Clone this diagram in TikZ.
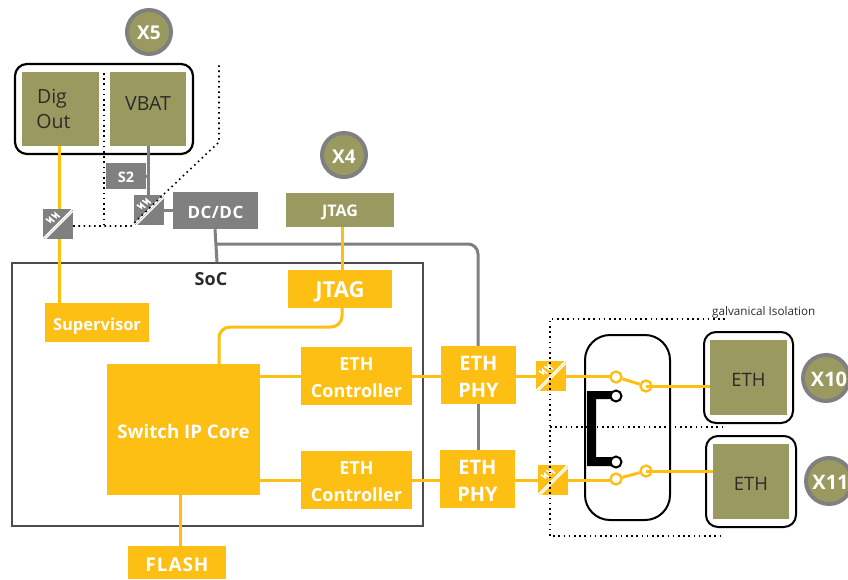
\documentclass[tikz,border=0pt]{standalone}
\usepackage{fontspec}
\setmainfont{Open Sans}
\usetikzlibrary{calc}
\definecolor{yel}{HTML}{FDBF14}
\definecolor{oli}{HTML}{9A9A60}
\definecolor{gry}{HTML}{808080}
\definecolor{txt}{HTML}{2B2B2B}
\tikzset{
  bx/.style={inner sep=0pt,align=center,font=\bfseries\fontsize{18}{27}\selectfont},
  ybox/.style={bx,fill=yel,text=white},
  gbox/.style={bx,fill=gry,text=white},
  obox/.style={bx,fill=oli,text=txt,font=\fontsize{19.5}{25}\selectfont},
  frame/.style={draw=black,line width=2pt,rounded corners=12pt},
  ywire/.style={draw=yel,line width=3pt},
  gwire/.style={draw=gry,line width=3pt},
  dots/.style={draw=black,line width=1.6pt,dash pattern=on 1.6pt off 3.6pt},
  portc/.style={circle,draw=gry,line width=4pt,fill=oli,text=white,minimum size=44pt,inner sep=0pt,font=\bfseries\fontsize{19}{20}\selectfont},
  swy/.style={circle,draw=yel,line width=2pt,fill=white,minimum size=11pt,inner sep=0pt},
  swk/.style={circle,draw=black,line width=2pt,fill=white,minimum size=11pt,inner sep=0pt},
}
% box from corners: name, x1, y1, x2, y2, style, text
\newcommand{\mybox}[7]{%
  \pgfmathsetmacro{\mycx}{(#2+#4)/2}\pgfmathsetmacro{\mycy}{(#3+#5)/2}%
  \pgfmathsetmacro{\mywd}{#4-#2}\pgfmathsetmacro{\myht}{#5-#3}%
  \node[#6,minimum width=\mywd pt,minimum height=\myht pt] (#1) at (\mycx,\mycy) {#7};}
% isolator: name, x, y (top-left), colour
\newcommand{\myiso}[4]{%
  \node[fill=#4,minimum size=30pt,inner sep=0pt] (#1) at (#2+15,#3+15) {};
  \begin{scope}[shift={(#1.north west)},x=1pt,y=-1pt,white,line width=1.3pt]
    \draw (0,30) -- (30,0);
    \draw (2.5,30) -- (30,2.5);
    \draw[line width=1.6pt] (3,10) -- (7.5,13) -- (7,9) -- (11.5,13);
    \draw[line width=1.6pt] (8.5,5.5) -- (13,8.5) -- (12.5,4.5) -- (17,8.5);
  \end{scope}}
\newcommand{\dn}[2]{\raisebox{-#1pt}[\height][\depth]{#2}}
\begin{document}
\begin{tikzpicture}[x=1pt,y=-1pt]
\useasboundingbox (0,0) rectangle (848,579);
% SoC frame
\node[draw=black!70,line width=1.6pt,minimum width=411pt,minimum height=263pt,inner sep=0pt] (soc) at (217.5,394.5) {};
\node[font=\bfseries\fontsize{18}{20}\selectfont,text=txt] (soclabel) at (211,279) {SoC};
% boxes
\mybox{dig}{22}{72}{99}{146}{obox}{Dig\hspace*{17pt}\\Out\hspace*{14pt}}
\mybox{vbat}{110}{72}{186}{146}{obox}{\raisebox{5pt}[\height][\depth]{VBAT}}
\mybox{stwo}{106}{163}{146}{189}{gbox,font=\bfseries\fontsize{14.5}{16}\selectfont}{\dn{1}{S2}}
\mybox{dcdc}{173}{192}{258}{229}{gbox,font=\bfseries\fontsize{17}{20}\selectfont\addfontfeature{LetterSpace=3}}{\dn{2}{DC/DC}}
\mybox{jtagx}{286}{193}{394}{227}{obox,text=white,font=\bfseries\fontsize{16}{18}\selectfont}{\dn{2}{JTAG}}
\mybox{jtag}{288}{270}{392}{308}{ybox,font=\bfseries\fontsize{22}{26}\selectfont}{\dn{3}{JTAG}}
\mybox{sup}{45}{303}{149}{342}{ybox,font=\bfseries\fontsize{16.5}{20}\selectfont}{\dn{4}{Supervisor}}
\mybox{core}{107}{364}{260}{495}{ybox,font=\bfseries\fontsize{18.7}{22}\selectfont}{\dn{2}{Switch IP Core}}
\mybox{ctla}{301}{347}{412}{405}{ybox}{\dn{2}{ETH}\\\dn{2}{Controller}}
\mybox{ctlb}{301}{451}{412}{509}{ybox}{\dn{2}{ETH}\\\dn{2}{Controller}}
\mybox{phya}{441}{346}{516}{404}{ybox,font=\bfseries\fontsize{20}{27}\selectfont}{\dn{2}{ETH}\\\dn{2}{PHY}}
\mybox{phyb}{440}{450}{515}{508}{ybox,font=\bfseries\fontsize{20}{27}\selectfont}{\dn{2}{ETH}\\\dn{2}{PHY}}
\mybox{flash}{128}{546}{226}{579}{ybox,font=\bfseries\fontsize{19}{22}\selectfont\addfontfeature{LetterSpace=5}}{\dn{2}{FLASH}}
% gray wires under boxes
\coordinate (rail) at (478,244);
\draw[gwire,rounded corners=10pt] (dcdc.south |- rail) -- (rail) -- (phya.north -| rail);
\draw[gwire] (phya.south -| rail) -- (phyb.north -| rail);
\draw[gwire] ([xshift=-0.5pt]dcdc.south) -- (soc.north -| 217,0);
% isolators
\myiso{isoa}{43}{209}{gry}
\myiso{isob}{134}{195}{gry}
\myiso{isoc}{536}{361}{yel}
\myiso{isod}{538}{465}{yel}
% X5 frame
\draw[frame,line width=2.2pt] (15,64) rectangle (193,154);
\node[portc] (xfive) at (149,32) {\dn{1}{X5}};
\node[portc] (xfour) at (344,155) {\dn{2}{X4}};
% wires left
\draw[ywire] ([xshift=-1.5pt]dig.south) -- (isoa.north -| 59,0);
\draw[ywire] (isoa.south -| 59,0) -- (sup.north -| 59,0);
\draw[gwire] ([xshift=0pt]vbat.south) -- (isob.north -| vbat);
\draw[gwire] (stwo.east) -- (stwo.east -| vbat);
\draw[gwire] (isob.east |- dcdc) -- (dcdc.west);
\draw[ywire] (jtagx.south -| 342,0) -- (jtag.north -| 342,0);
\draw[ywire,rounded corners=11pt] (jtag.south -| 342,0) -- (342,327) -- (219,327) -- (core.north -| 219,0);
\draw[ywire] (core.east |- ctla) -- (ctla.west);
\draw[ywire] (core.east |- ctlb) -- (ctlb.west);
\draw[ywire] (ctla.east |- 0,376) -- (phya.west |- 0,376);
\draw[ywire] (ctlb.east |- 0,480) -- (phyb.west |- 0,480);
\draw[ywire] (phya.east |- 0,376) -- (isoc.west |- 0,376);
\draw[ywire] (phyb.east |- 0,480) -- (isod.west |- 0,480);
\draw[ywire] (core.south -| 180,0) -- (flash.north -| 180,0);
% switch
\draw[draw=black,line width=2pt,rounded corners=25pt] (585,335) rectangle (670,520);
\fill[black] (587,391) -- (616,391) -- (616,399) -- (596,399) -- (596,457) -- (616,457) -- (616,466) -- (587,466) -- cycle;
\mybox{etha}{710}{340}{787}{415}{obox,font=\fontsize{18.5}{22}\selectfont}{\dn{2}{ETH}}
\mybox{ethb}{713}{444}{789}{519}{obox,font=\fontsize{18.5}{22}\selectfont}{\dn{2}{ETH}}
\draw[frame] (704,332) rectangle (793,423);
\draw[frame] (706,436) rectangle (796,527);
\node[swy] (sa) at (616,377) {};
\node[swy] (sb) at (646,386) {};
\node[swk] (ka) at (616,396) {};
\node[swk] (kb) at (616,462) {};
\node[swy] (sc) at (616,479) {};
\node[swy] (sd) at (646,471) {};
\draw[ywire] (isoc.east |- 0,376) -- (sa.west |- 0,376);
\draw[ywire] (isod.east |- 0,480) -- (sc.west |- 0,480);
\draw[ywire] (sa) -- (sb);
\draw[ywire] (sc) -- (sd);
\draw[ywire] (sb.center) -- (etha.west |- sb);
\draw[ywire] (sd.center) -- (ethb.west |- sd);
\node[swy,fill=none] at (sa) {};
\node[swy,fill=none] at (sb) {};
\node[swy,fill=none] at (sc) {};
\node[swy,fill=none] at (sd) {};
% dotted isolation lines
\draw[dots] (104,73) -- (104,226);
\coordinate (da) at (74,226);
\coordinate (db) at (219,65);
\draw[dots] (isoa.east |- da) -- (131,226) -- (164,194) (164,194) -- (219,142) -- (db);
\draw[dots] (725,319) -- (550,319) -- (550,536) -- (723,536);
\draw[dots] (550,427) -- (722,427);
\node[anchor=base west,inner sep=0pt,text=txt,font=\fontsize{11.7}{13}\selectfont] (gal) at (712,315) {galvanical Isolation};
% port circles
\begin{scope}
\clip (0,0) rectangle (848,579);
\node[portc,minimum size=46pt,font=\bfseries\fontsize{20}{22}\selectfont] (xten) at (826,378) {\hspace*{6pt}\dn{1}{X10}};
\node[portc,minimum size=46pt,font=\bfseries\fontsize{20}{22}\selectfont] (xele) at (829,481) {\hspace*{3pt}\dn{1}{X11}};
\end{scope}
\end{tikzpicture}
\end{document}
